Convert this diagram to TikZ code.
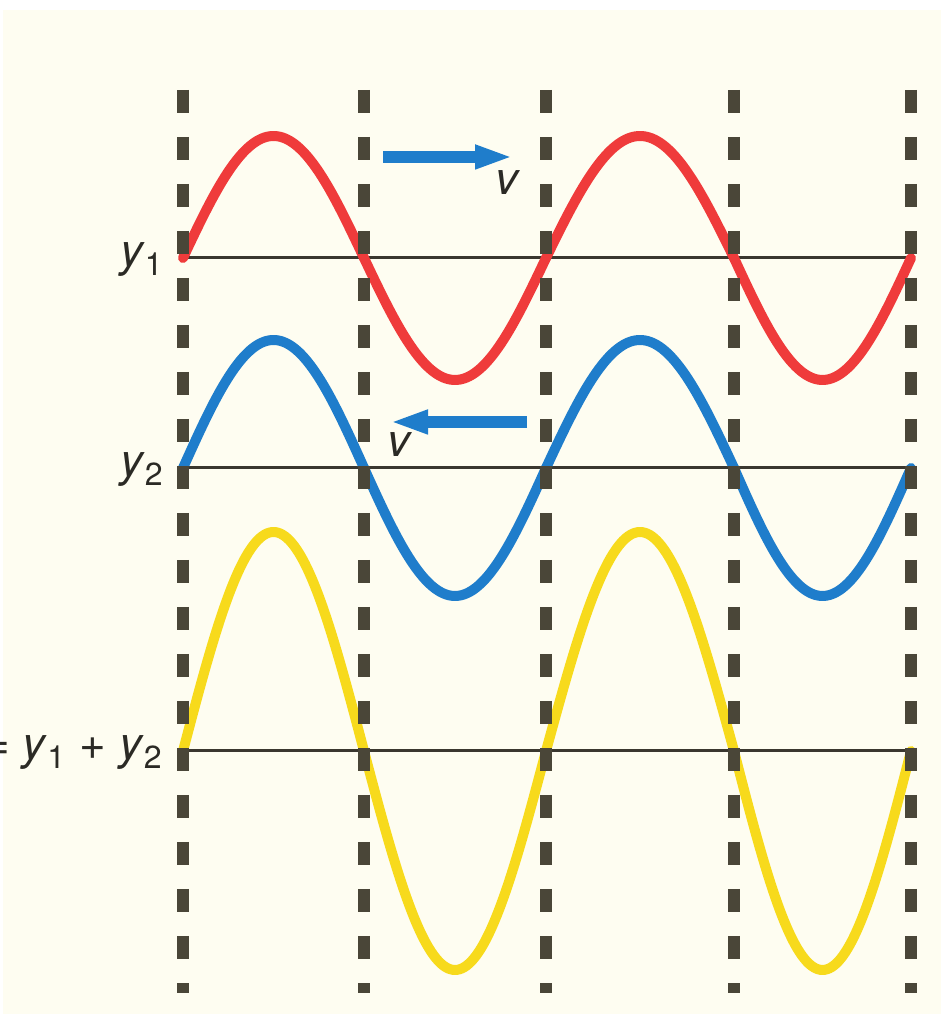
\documentclass[tikz,border=0pt]{standalone}
\usepackage{fontspec}
\setmainfont{TeX Gyre Heros}
\usetikzlibrary{arrows.meta}
\definecolor{papier}{HTML}{FEFDF1}
\definecolor{rot}{HTML}{EF3B3B}
\definecolor{blau}{HTML}{1F7DCB}
\definecolor{gelb}{HTML}{F7DA1C}
\definecolor{strich}{HTML}{4A4638}
\definecolor{linie}{HTML}{3A372F}
\definecolor{schrift}{HTML}{2B2A25}

\begin{document}
\begin{tikzpicture}[welle/.style={line width=0.1cm, line cap=round}, x=10mm, y=10mm,
			>={Triangle[length=0.38cm, width=0.22cm]},   %Pfeilspitzen
			font=\fontsize{13}{15}\selectfont, text=schrift]
			%Bildbereich
			\useasboundingbox (0,0) rectangle (9.41,10.14);
			\fill[white] (0,0) rectangle (9.41,10.14);
			\fill[papier] (0.03,0) rectangle (9.41,10.04);
			% Achsen zeichnen
			\foreach \y in {7.56,5.46,2.63} \draw[color=linie, line width=0.03cm] (1.79,\y) -- (9.11,\y);
			% Wellen zeichnen: y1, y2 und Summe
			\foreach \a/\b/\s in {1.83/3.64/1, 3.64/5.46/-1, 5.46/7.34/1, 7.34/9.11/-1} {
				\draw[welle, rot] plot[domain=\a:\b, samples=40, smooth] (\x, {7.56+(\s)*1.22*sin(180*(\x-\a)/(\b-\a))});
				\draw[welle, blau] plot[domain=\a:\b, samples=40, smooth] (\x, {5.46+(\s)*1.28*sin(180*(\x-\a)/(\b-\a))});
				\draw[welle, gelb] plot[domain=\a:\b, samples=40, smooth] (\x, {2.63+(\s)*2.19*sin(180*(\x-\a)/(\b-\a))});
			}
			% Knotenlinien gestrichelt
			\foreach \x in {1.83,3.64,5.46,7.34,9.11} \draw[color=strich, line width=0.12cm, dash pattern=on 0.23cm off 0.24cm] (\x,9.24) -- (\x,0.21);
			% Geschwindigkeit
			\coordinate (r1) at (3.83,8.57);
			\coordinate (r2) at (5.13,8.57);
			\draw[->, blau, line width=0.12cm] (r1) -- (r2);
			\node (v1) at (5.08,8.31) {\textit{v}};
			\coordinate (b1) at (5.27,5.92);
			\coordinate (b2) at (3.90,5.92);
			\draw[->, blau, line width=0.12cm] (b1) -- (b2);
			\node (v2) at (4.00,5.69) {\textit{v}};
			% Beschriftung
			\node[anchor=base east, inner sep=0pt] (y1) at (1.65,7.47) {\textit{y}\textsubscript{1}};
			\node[anchor=base east, inner sep=0pt] (y2) at (1.65,5.37) {\textit{y}\textsubscript{2}};
			\node[anchor=base east, inner sep=0pt] (ys) at (1.64,2.54) {= \textit{y}\textsubscript{1} + \textit{y}\textsubscript{2}};
		\end{tikzpicture}
\end{document}
